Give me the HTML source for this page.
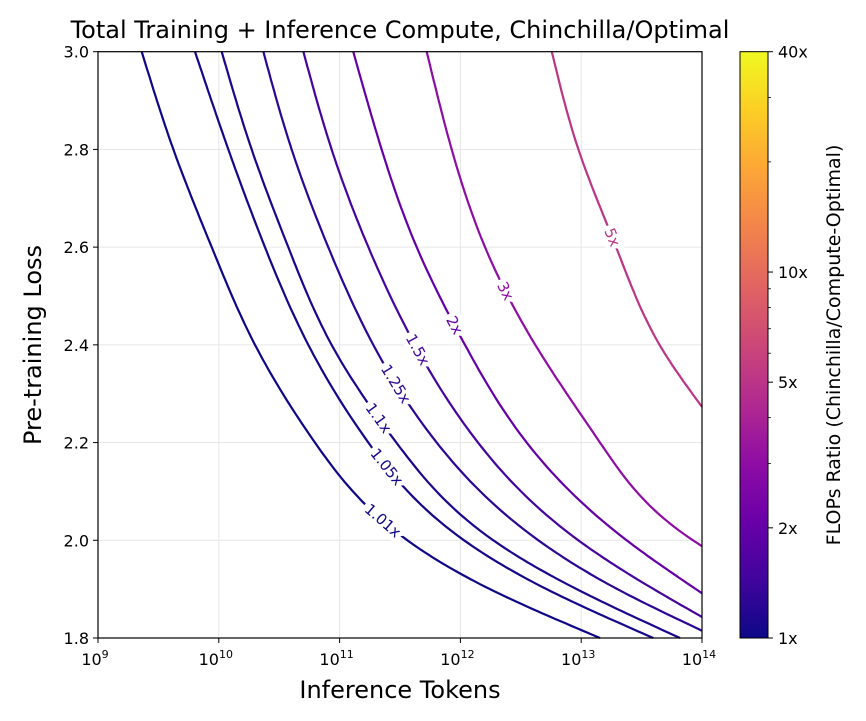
<!DOCTYPE html>
<html><head><meta charset="utf-8"><style>
body{margin:0;background:#fff;}
svg{display:block;font-family:"DejaVu Sans","Liberation Sans",sans-serif;}
</style></head><body>
<svg id="chart" width="866" height="721" viewBox="0 0 866 721" xmlns="http://www.w3.org/2000/svg">
<defs>
<linearGradient id="plasma" x1="0" y1="1" x2="0" y2="0">
<stop offset="0" stop-color="#0d0887"/><stop offset="0.1" stop-color="#41049d"/><stop offset="0.2" stop-color="#6a00a8"/><stop offset="0.3" stop-color="#8f0da4"/><stop offset="0.4" stop-color="#b12a90"/><stop offset="0.5" stop-color="#cc4778"/><stop offset="0.6" stop-color="#e16462"/><stop offset="0.7" stop-color="#f2844b"/><stop offset="0.8" stop-color="#fca636"/><stop offset="0.9" stop-color="#fcce25"/><stop offset="1" stop-color="#f0f921"/>
</linearGradient>
</defs>
<text x="400" y="38" font-size="24" text-anchor="middle">Total Training + Inference Compute, Chinchilla/Optimal</text>
<g id="grid"></g>
<g id="curves"></g>
<g id="labels"></g>
<rect x="98" y="51.7" width="604" height="586.3" fill="none" stroke="#000" stroke-width="1.2"/>
<g id="axes"></g>
<text x="400" y="698" font-size="24" text-anchor="middle">Inference Tokens</text>
<text transform="translate(41,345) rotate(-90)" font-size="24" text-anchor="middle">Pre-training Loss</text>
<rect x="740" y="51.7" width="28" height="586.3" fill="url(#plasma)" stroke="#000" stroke-width="1"/>
<g id="cbar"></g>
<text transform="translate(840,345) rotate(-90)" font-size="19" text-anchor="middle">FLOPs Ratio (Chinchilla/Compute-Optimal)</text>
</svg>
<script>
const levels = ["1.01x","1.05x","1.1x","1.25x","1.5x","2x","3x","5x"];
const levelValues = [1.01,1.05,1.1,1.25,1.5,2,3,5];
const logTokensA = [9.362,9.624,9.941,10.30,10.796,11.561,12.245,13.156];
const lossA = [3.0,2.8,2.6,2.4,2.2,2.0,1.9,1.8];
const logTokensB = [9.803,10.079,10.382,10.741,11.238,12.03,12.714,13.597];
const lossB = [3.0,2.8,2.6,2.4,2.2,2.0,1.9,1.8];
const logTokensC = [10.024,10.272,10.575,10.934,11.47,12.272,12.963,13.818];
const lossC = [3.0,2.8,2.6,2.4,2.2,2.0,1.9,1.8];
const logTokensD = [10.369,10.603,10.906,11.279,11.804,12.645,13.3,14.0];
const lossD = [3.0,2.8,2.6,2.4,2.2,2.0,1.9,1.815];
const logTokensE = [10.70,10.934,11.238,11.624,12.146,12.976,13.6,14.0];
const lossE = [3.0,2.8,2.6,2.4,2.2,2.0,1.9,1.843];
const logTokensF = [11.113,11.348,11.638,12.038,12.549,13.376,14.0];
const lossF = [3.0,2.8,2.6,2.4,2.2,2.0,1.8915];
const logTokensG = [11.721,11.928,12.204,12.62,13.156,13.925,14.0];
const lossG = [3.0,2.8,2.6,2.4,2.2,2.0,1.988];
const logTokensH = [12.757,12.977,13.289,13.649,14.0];
const lossH = [3.0,2.8,2.6,2.4,2.273];
const labelLogTokens = [11.354,11.403,11.338,11.469,11.649,11.961,12.436,13.282];
const labelLoss = [2.049,2.152,2.248,2.327,2.395,2.447,2.514,2.622];
const yTicks = [1.8,2.0,2.2,2.4,2.6,2.8,3.0];
const yTickLabels = ["1.8","2.0","2.2","2.4","2.6","2.8","3.0"];
const xTicks = [9,10,11,12,13,14];
const cbarTicks = [1,2,5,10,40];
const cbarTickLabels = ["1x","2x","5x","10x","40x"];

const NS="http://www.w3.org/2000/svg";
const X0=98,X1=702,Y0=638,Y1=51.7;
function xs(l){return X0+(l-9)/5*(X1-X0);}
function ys(v){return Y0-(v-1.8)/1.2*(Y0-Y1);}
function cs(v){return Y0-Math.log(v)/Math.log(40)*(Y0-Y1);}
function mk(tag,parent){const e=document.createElementNS(NS,tag);document.getElementById(parent).appendChild(e);return e;}
const stops=[[0,"#0d0887"],[0.1,"#41049d"],[0.2,"#6a00a8"],[0.3,"#8f0da4"],[0.4,"#b12a90"],[0.5,"#cc4778"],[0.6,"#e16462"],[0.7,"#f2844b"],[0.8,"#fca636"],[0.9,"#fcce25"],[1,"#f0f921"]];
function plasma(t){for(let i=1;i<stops.length;i++){if(t<=stops[i][0]){const a=stops[i-1],b=stops[i];const f=(t-a[0])/(b[0]-a[0]);const p=h=>[1,3,5].map(k=>parseInt(h.substr(k,2),16));const ca=p(a[1]),cb=p(b[1]);return "rgb("+ca.map((c,j)=>Math.round(c+(cb[j]-c)*f)).join(",")+")";}}return stops[10][1];}

yTicks.forEach((v,i)=>{
  const g=mk("line","grid");
  
  
  g.setAttribute("x1",X0);g.setAttribute("x2",X1);g.setAttribute("y1",ys(v));g.setAttribute("y2",ys(v));g.setAttribute("stroke","#e6e6e6");g.setAttribute("stroke-width","1");
  const t=mk("line","axes");
  
  
  t.setAttribute("x1",X0-5);t.setAttribute("x2",X0);t.setAttribute("y1",ys(v));t.setAttribute("y2",ys(v));t.setAttribute("stroke","#000");
  const tx=mk("text","axes");
  
  
  tx.setAttribute("x",X0-9);tx.setAttribute("y",ys(v)+6);tx.setAttribute("text-anchor","end");tx.setAttribute("font-size","16");tx.textContent=yTickLabels[i];
});
xTicks.forEach(l=>{
  const g=mk("line","grid");
  
  
  g.setAttribute("x1",xs(l));g.setAttribute("x2",xs(l));g.setAttribute("y1",Y1);g.setAttribute("y2",Y0);g.setAttribute("stroke","#e6e6e6");
  const t=mk("line","axes");
  
  
  t.setAttribute("x1",xs(l));t.setAttribute("x2",xs(l));t.setAttribute("y1",Y0);t.setAttribute("y2",Y0+5);t.setAttribute("stroke","#000");
  const tx=mk("text","axes");
  
  
  tx.setAttribute("x",xs(l)-3);tx.setAttribute("y",Y0+27);tx.setAttribute("text-anchor","middle");tx.setAttribute("font-size","16");
  tx.innerHTML='10<tspan font-size="11" dy="-7">'+l+'</tspan>';
});

function splineSample(lx,ly,n){
  const idx=ly.map((v,i)=>i).sort((a,b)=>ly[a]-ly[b]);
  const x=idx.map(i=>ly[i]),y=idx.map(i=>lx[i]);
  const m=x.length,h=[],al=[0],l=[1],mu=[0],z=[0],c=new Array(m).fill(0),b=[],d=[];
  for(let i=0;i<m-1;i++)h.push(x[i+1]-x[i]);
  for(let i=1;i<m-1;i++)al.push(3/h[i]*(y[i+1]-y[i])-3/h[i-1]*(y[i]-y[i-1]));
  for(let i=1;i<m-1;i++){l[i]=2*(x[i+1]-x[i-1])-h[i-1]*mu[i-1];mu[i]=h[i]/l[i];z[i]=(al[i]-h[i-1]*z[i-1])/l[i];}
  z[m-1]=0;
  for(let j=m-2;j>=0;j--){c[j]=z[j]-mu[j]*c[j+1];b[j]=(y[j+1]-y[j])/h[j]-h[j]*(c[j+1]+2*c[j])/3;d[j]=(c[j+1]-c[j])/(3*h[j]);}
  const out=[];
  for(let i=0;i<m-1;i++){for(let k=0;k<n;k++){const t=k/n*h[i];out.push([y[i]+b[i]*t+c[i]*t*t+d[i]*t*t*t,x[i]+t]);}}
  out.push([y[m-1],x[m-1]]);
  return out;
}
const sets=[[logTokensA,lossA],[logTokensB,lossB],[logTokensC,lossC],[logTokensD,lossD],[logTokensE,lossE],[logTokensF,lossF],[logTokensG,lossG],[logTokensH,lossH]];
sets.forEach((s,i)=>{
  const smp=splineSample(s[0],s[1],20);
  const pts=smp.map(p=>[xs(Math.min(14,p[0])),ys(p[1])]);
  const col=plasma(Math.log(levelValues[i])/Math.log(40));
  const p=mk("path","curves");
  
  
  p.setAttribute("d","M"+pts.map(q=>q[0].toFixed(1)+","+q[1].toFixed(1)).join(" L"));
  p.setAttribute("fill","none");p.setAttribute("stroke",col);p.setAttribute("stroke-width","2.2");
  const lx=xs(labelLogTokens[i]),ly=ys(labelLoss[i]);
  let best=0,bd=1e9;pts.forEach((q,j)=>{const dd=Math.hypot(q[0]-lx,q[1]-ly);if(dd<bd){bd=dd;best=j;}});
  const a=pts[Math.max(0,best-2)],b=pts[Math.min(pts.length-1,best+2)];
  let ang=Math.atan2(a[1]-b[1],a[0]-b[0])*180/Math.PI;
  if(ang>90)ang-=180;if(ang<-90)ang+=180;
  const cx=pts[best][0],cy=pts[best][1];
  const t=mk("text","labels");
  
  
  t.setAttribute("x",cx);t.setAttribute("y",cy+5);t.setAttribute("text-anchor","middle");t.setAttribute("font-size","15");t.setAttribute("fill",col);
  t.setAttribute("stroke","#fff");t.setAttribute("stroke-width","9");t.setAttribute("paint-order","stroke");
  t.setAttribute("transform","rotate("+ang.toFixed(1)+","+cx+","+cy+")");
  t.textContent=levels[i];
});

cbarTicks.forEach((v,i)=>{
  const t=mk("line","cbar");
  
  
  t.setAttribute("x1",768);t.setAttribute("x2",773);t.setAttribute("y1",cs(v));t.setAttribute("y2",cs(v));t.setAttribute("stroke","#000");
  const tx=mk("text","cbar");
  
  
  tx.setAttribute("x",778);tx.setAttribute("y",cs(v)+6);tx.setAttribute("font-size","16");tx.textContent=cbarTickLabels[i];
});
[3,4,6,7,8,9,20,30].forEach(v=>{
  const t=mk("line","cbar");
  
  
  t.setAttribute("x1",768);t.setAttribute("x2",771);t.setAttribute("y1",cs(v));t.setAttribute("y2",cs(v));t.setAttribute("stroke","#000");t.setAttribute("stroke-width","0.8");
});
</script>
</body></html>
